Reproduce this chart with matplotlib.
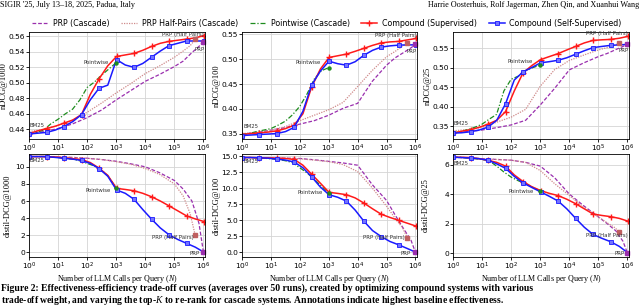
import matplotlib
matplotlib.use('Agg')
import matplotlib.pyplot as plt
from matplotlib.ticker import LogLocator, NullLocator, FixedLocator
from matplotlib.lines import Line2D

plt.rcParams['mathtext.fontset'] = 'custom'
plt.rcParams['mathtext.rm'] = 'DejaVu Sans'
plt.rcParams['mathtext.it'] = 'Liberation Serif:italic'
plt.rcParams['mathtext.bf'] = 'DejaVu Sans:bold'

# x positions (LLM calls per query)
N_COMP = [1, 2, 4, 8, 16, 32, 64, 128, 256, 512, 1024, 2048, 4096, 8192, 16384,
          32768, 65536, 131072, 262144, 524288, 1048576]
P_X = [1, 3.16, 10, 31.6, 100, 316, 1e3, 3.16e3, 1e4, 3.16e4, 1e5, 2e5, 4e5, 7e5, 1e6]
H_X = [1, 3.16, 10, 31.6, 100, 316, 1e3, 3.16e3, 1e4, 3.16e4, 1e5, 2e5, 3.5e5, 5.2e5]
W_X = [1, 1.78, 3.16, 5.62, 10, 17.8, 31.6, 56.2, 100, 178, 316, 562, 1000]

# nDCG@1000
sup_1000 = [0.4344, 0.438, 0.441, 0.444, 0.448, 0.452, 0.459, 0.485, 0.505, 0.522, 0.534,
            0.536, 0.538, 0.542, 0.547, 0.551, 0.5535, 0.555, 0.5565, 0.558, 0.561]
self_1000 = [0.434, 0.435, 0.436, 0.439, 0.4436, 0.450, 0.459, 0.478, 0.493, 0.497, 0.530,
             0.523, 0.520, 0.525, 0.533, 0.541, 0.548, 0.551, 0.554, 0.554, 0.554]
pw_1000 = [0.434, 0.436, 0.439, 0.447, 0.453, 0.460, 0.466, 0.478, 0.494, 0.501, 0.510, 0.518, 0.526]
half_1000 = [0.437, 0.440, 0.445, 0.452, 0.462, 0.474, 0.487, 0.499, 0.512, 0.522, 0.533, 0.541, 0.548, 0.556]
prp_1000 = [0.434, 0.437, 0.441, 0.447, 0.455, 0.465, 0.478, 0.490, 0.502, 0.511, 0.521, 0.528, 0.539, 0.547, 0.553]

# nDCG@100
sup_100 = [0.348, 0.350, 0.3513, 0.353, 0.3555, 0.360, 0.367, 0.390, 0.444, 0.480, 0.5036,
           0.507, 0.5104, 0.516, 0.522, 0.528, 0.533, 0.535, 0.536, 0.539, 0.542]
self_100 = [0.346, 0.347, 0.348, 0.349, 0.350, 0.354, 0.3625, 0.395, 0.448, 0.476, 0.496,
            0.491, 0.488, 0.495, 0.508, 0.518, 0.5245, 0.527, 0.5285, 0.529, 0.529]
pw_100 = [0.348, 0.350, 0.354, 0.357, 0.360, 0.367, 0.375, 0.388, 0.405, 0.430, 0.460, 0.477, 0.483]
half_100 = [0.350, 0.352, 0.357, 0.364, 0.376, 0.387, 0.398, 0.413, 0.445, 0.477, 0.505, 0.516, 0.526, 0.532]
prp_100 = [0.349, 0.352, 0.357, 0.362, 0.369, 0.376, 0.387, 0.401, 0.411, 0.455, 0.488, 0.503, 0.514, 0.523, 0.530]

# nDCG@25
sup_25 = [0.332, 0.337, 0.3407, 0.347, 0.355, 0.365, 0.387, 0.440, 0.4864, 0.505, 0.5203,
          0.528, 0.5356, 0.545, 0.554, 0.563, 0.5695, 0.571, 0.572, 0.575, 0.580]
self_25 = [0.332, 0.333, 0.3356, 0.340, 0.3475, 0.365, 0.407, 0.468, 0.489, 0.500, 0.512,
           0.515, 0.5186, 0.525, 0.534, 0.543, 0.551, 0.554, 0.5568, 0.558, 0.5593]
pw_25 = [0.332, 0.336, 0.341, 0.347, 0.355, 0.368, 0.380, 0.440, 0.470, 0.478, 0.492, 0.500, 0.506]
half_25 = [0.338, 0.341, 0.347, 0.360, 0.373, 0.393, 0.452, 0.495, 0.518, 0.532, 0.545, 0.551, 0.557, 0.562]
prp_25 = [0.333, 0.336, 0.340, 0.346, 0.353, 0.365, 0.404, 0.447, 0.494, 0.512, 0.528, 0.536, 0.546, 0.554, 0.559]

# distil-DCG@1000
sup_d1000 = [11.2, 11.2, 11.2, 11.15, 11.05, 10.95, 10.85, 10.5, 9.85, 9.0, 7.48, 7.35, 7.2,
             6.9, 6.5, 6.0, 5.43, 4.85, 4.26, 3.9, 3.6]
self_d1000 = [11.2, 11.2, 11.2, 11.1, 11.0, 10.9, 10.75, 10.4, 9.8, 8.9, 7.29, 6.9, 6.2,
              5.0, 3.88, 2.85, 2.05, 1.5, 1.05, 0.6, 0.0]
pw_d1000 = [11.2, 11.2, 11.2, 11.15, 11.1, 11.0, 10.9, 10.7, 10.4, 10.1, 9.6, 8.8, 7.5]
half_d1000 = [11.2, 11.2, 11.15, 11.1, 11.0, 10.85, 10.6, 10.3, 9.8, 9.1, 8.0, 6.6, 4.5, 2.0]
prp_d1000 = [11.2, 11.2, 11.15, 11.1, 11.0, 10.85, 10.65, 10.35, 10.0, 9.3, 8.4, 7.4, 6.0, 3.4, 0.0]

# distil-DCG@100
sup_d100 = [14.8, 14.8, 14.75, 14.75, 14.7, 14.65, 14.5, 13.6, 12.2, 10.8, 9.37, 9.2, 9.0,
            8.5, 7.7, 6.8, 5.95, 5.45, 5.0, 4.55, 4.1]
self_d100 = [14.8, 14.8, 14.75, 14.7, 14.55, 14.4, 14.1, 13.2, 11.8, 10.2, 9.0, 8.6, 8.0,
             6.6, 4.87, 3.4, 2.46, 1.7, 1.18, 0.6, 0.0]
pw_d100 = [14.8, 14.8, 14.75, 14.7, 14.6, 14.5, 14.3, 14.0, 13.2, 12.4, 11.4, 10.3, 9.3]
half_d100 = [14.8, 14.8, 14.75, 14.7, 14.6, 14.4, 14.15, 13.7, 12.6, 10.1, 7.2, 5.3, 3.9, 2.3]
prp_d100 = [14.8, 14.8, 14.75, 14.7, 14.65, 14.45, 14.2, 13.95, 13.6, 10.6, 8.1, 5.8, 3.6, 1.9, 0.0]

# distil-DCG@25
sup_d25 = [6.5, 6.5, 6.48, 6.4, 6.29, 6.15, 5.9, 5.3, 4.85, 4.5, 4.24, 4.05, 3.9, 3.65,
           3.35, 3.0, 2.65, 2.55, 2.47, 2.35, 2.16]
self_d25 = [6.5, 6.48, 6.45, 6.4, 6.3, 6.05, 5.75, 5.2, 4.76, 4.45, 4.15, 3.85, 3.53, 3.0,
            2.36, 1.75, 1.26, 1.0, 0.77, 0.45, 0.0]
pw_d25 = [6.5, 6.5, 6.45, 6.4, 6.35, 6.25, 5.9, 5.5, 5.15, 4.9, 4.7, 4.45, 4.22]
half_d25 = [6.5, 6.45, 6.4, 6.35, 6.3, 6.15, 5.6, 4.7, 3.9, 3.1, 2.45, 2.05, 1.75, 1.45]
prp_d25 = [6.5, 6.45, 6.4, 6.35, 6.3, 6.15, 5.9, 5.1, 4.0, 3.2, 2.45, 2.0, 1.5, 0.8, 0.0]

ylabels = ['nDCG@1000', 'nDCG@100', 'nDCG@25', 'distil-DCG@1000', 'distil-DCG@100', 'distil-DCG@25']
yticks = [[0.44, 0.46, 0.48, 0.50, 0.52, 0.54, 0.56],
          [0.35, 0.40, 0.45, 0.50, 0.55],
          [0.35, 0.40, 0.45, 0.50, 0.55],
          [0, 2, 4, 6, 8, 10],
          [0.0, 2.5, 5.0, 7.5, 10.0, 12.5, 15.0],
          [0, 2, 4, 6]]
ylims = [(0.4275, 0.5656), (0.339, 0.555), (0.317, 0.591), (-0.55, 11.5), (-0.72, 15.35), (-0.27, 6.72)]
series = [(sup_1000, self_1000, pw_1000, half_1000, prp_1000),
          (sup_100, self_100, pw_100, half_100, prp_100),
          (sup_25, self_25, pw_25, half_25, prp_25),
          (sup_d1000, self_d1000, pw_d1000, half_d1000, prp_d1000),
          (sup_d100, self_d100, pw_d100, half_d100, prp_d100),
          (sup_d25, self_d25, pw_d25, half_d25, prp_d25)]
# annotation offsets in pixels: BM25, Pointwise, Half Pairs, PRP
offsets = [((1, 8), (-7, 0.5), (9, 5), (1, -8)),
           ((1, 8.5), (-7.5, 5), (9, 8), (1, -7.5)),
           ((1, 10), (-7.5, 3.3), (9, 9.5), (1, -6.5)),
           ((1, -4.3), (-5, -2.5), (-1, -2.2), (-4, -1)),
           ((1, -4.4), (-6, 0), (-3, 0), (-5, -1)),
           ((1, -6.5), (-6, -1), (9, -4.3), (-3, 0))]
label_x = [-0.118, -0.12, -0.12, -0.097, -0.12, -0.131]

C_RED, C_BLUE, C_GREEN = '#ff1a1a', '#1a1aff', '#1e8c1e'
C_PRP, C_HALF = '#9a2fae', '#cf8a8a'

fig = plt.figure(figsize=(6.4, 3.08), dpi=100)
boxes = [(29, 32, 205, 139), (242, 32, 417, 139), (453, 32, 629, 139),
         (29, 154, 205, 257), (242, 154, 417, 257), (453, 154, 629, 257)]

def pt(o):
    return (o[0] * 0.72, o[1] * 0.72)

for i, (l, t, r, b) in enumerate(boxes):
    ax = fig.add_axes([l / 640, 1 - b / 308, (r - l) / 640, (b - t) / 308])
    sup, slf, pw, half, prp = series[i]
    ax.plot(P_X, prp, color=C_PRP, ls=(0, (3, 1.5)), lw=0.9)
    ax.plot(H_X, half, color=C_HALF, ls=(0, (1, 1)), lw=0.9)
    ax.plot(W_X, pw, color=C_GREEN, ls=(0, (4, 1.5, 1, 1.5)), lw=0.9)
    ax.plot(N_COMP, sup, color=C_RED, lw=1.1, marker='+', ms=4.5, mew=1.0, markevery=2)
    ax.plot(N_COMP, slf, color=C_BLUE, lw=1.1, marker='s', ms=2.8, mew=0.6,
            mfc=(0.45, 0.45, 1.0), mec=C_BLUE, markevery=2)
    ax.plot(W_X[-1], pw[-1], 'o', color=C_GREEN, ms=2.2)
    ax.plot(H_X[-1], half[-1], 's', color='#c06060', ms=2.2)
    ax.plot(P_X[-1], prp[-1], 's', color=C_PRP, ms=2.2, clip_on=False)

    o = offsets[i]
    kw = dict(textcoords='offset points', fontsize=3.9, color='#333333', va='center')
    ax.annotate('BM25', xy=(1, sup[0]), xytext=pt(o[0]), ha='left', **kw)
    ax.annotate('Pointwise', xy=(W_X[-1], pw[-1]), xytext=pt(o[1]), ha='right', **kw)
    ax.annotate('PRP (Half Pairs)', xy=(H_X[-1], half[-1]), xytext=pt(o[2]), ha='right', **kw)
    ax.annotate('PRP', xy=(P_X[-1], prp[-1]), xytext=pt(o[3]), ha='right', **kw)

    ax.set_xscale('log')
    ax.set_xlim(1, 1.13e6)
    ax.set_ylim(*ylims[i])
    ax.xaxis.set_major_locator(LogLocator(base=10, numticks=10))
    ax.xaxis.set_minor_locator(NullLocator())
    ax.yaxis.set_major_locator(FixedLocator(yticks[i]))
    if i == 4:
        ax.set_yticklabels(['%.1f' % v for v in yticks[i]])
    elif i < 3:
        ax.set_yticklabels([('%.2f' % v) for v in yticks[i]])
    ax.grid(True, color='#d4d4d4', lw=0.6)
    ax.set_axisbelow(True)
    ax.tick_params(labelsize=5.4, length=2.0, width=0.6, pad=0.8)
    for s in ax.spines.values():
        s.set_linewidth(0.6)
    ax.set_ylabel(ylabels[i], family='Liberation Serif', fontsize=6)
    ax.yaxis.set_label_coords(label_x[i], 0.5)
    if i >= 3:
        ax.set_xlabel('Number of LLM Calls per Query ($N$)', family='Liberation Serif',
                      fontsize=5.8, labelpad=0.5)

handles = [Line2D([], [], color=C_PRP, ls=(0, (3, 1.5)), lw=0.9),
           Line2D([], [], color=C_HALF, ls=(0, (1, 1)), lw=0.9),
           Line2D([], [], color=C_GREEN, ls=(0, (4, 1.5, 1, 1.5)), lw=0.9),
           Line2D([], [], color=C_RED, lw=1.1, marker='+', ms=4.5, mew=1.0),
           Line2D([], [], color=C_BLUE, lw=1.1, marker='s', ms=2.8, mew=0.6,
                  mfc=(0.45, 0.45, 1.0), mec=C_BLUE)]
labels = ['PRP (Cascade)', 'PRP Half-Pairs (Cascade)', 'Pointwise (Cascade)',
          'Compound (Supervised)', 'Compound (Self-Supervised)']
fig.legend(handles, labels, loc='center', bbox_to_anchor=(327 / 640, 1 - 23.5 / 308), ncol=5,
           frameon=False, fontsize=5.7, handlelength=2.0, handletextpad=0.6, columnspacing=1.5)

fig.text(0, 1 - 5 / 308, "SIGIR '25, July 13\u201318, 2025, Padua, Italy", family='Liberation Serif',
         fontsize=5.9, ha='left', va='center')
fig.text(0.999, 1 - 5 / 308, 'Harrie Oosterhuis, Rolf Jagerman, Zhen Qin, and Xuanhui Wang',
         family='Liberation Serif', fontsize=5.9, ha='right', va='center')
fig.text(0.001, 1 - 288.5 / 308, 'Figure 2: Effectiveness-efficiency trade-off curves (averages over 50 runs), '
         'created by optimizing compound systems with various', family='Liberation Serif',
         fontsize=6.9, weight='bold', ha='left', va='center')
fig.text(0.001, 1 - 300.5 / 308, 'trade-off weight, and varying the top-$K$ to re-rank for cascade systems. '
         'Annotations indicate highest baseline effectiveness.', family='Liberation Serif',
         fontsize=6.9, weight='bold', ha='left', va='center')

fig.savefig('out.png', dpi=100)
